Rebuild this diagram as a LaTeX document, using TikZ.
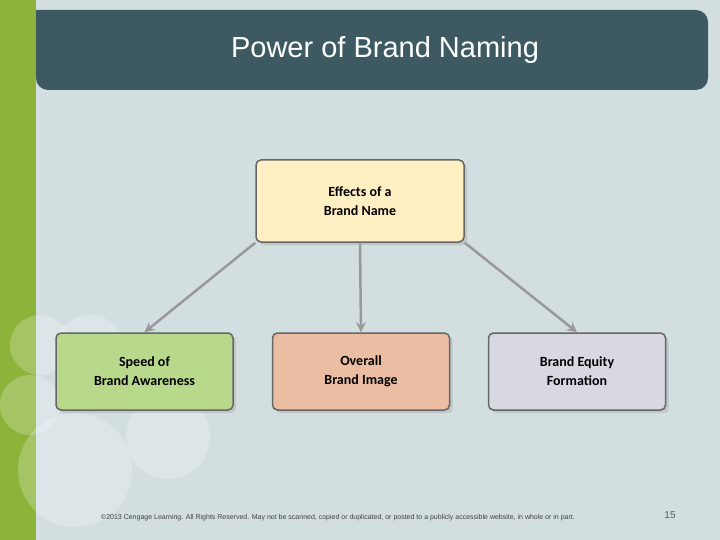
\documentclass[tikz,border=0pt]{standalone}
\usepackage{fontspec}
\setmainfont{Carlito}
\newfontfamily\arialf{Liberation Sans}
\usetikzlibrary{arrows.meta,shadows}
\definecolor{bg}{HTML}{D3DEE1}
\definecolor{gstrip}{HTML}{8DB33A}
\definecolor{tbar}{HTML}{3D5A63}
\definecolor{ylw}{HTML}{FFEFC2}
\definecolor{grn}{HTML}{B8D98C}
\definecolor{pch}{HTML}{EBBEA3}
\definecolor{lav}{HTML}{D8D8E3}
\definecolor{arr}{HTML}{999999}
\tikzset{
 box/.style={draw=gray!80!black, line width=1.5pt, rounded corners=5pt, minimum width=177pt, minimum height=77pt, align=center, font=\fontsize{14}{19}\selectfont\bfseries, drop shadow={shadow xshift=3pt,shadow yshift=-3pt,opacity=0.25}},
 conn/.style={draw=arr, line width=2.5pt, -{Stealth[length=10pt,width=10pt]}},
 bub/.style={fill=white, fill opacity=0.22}
}
\begin{document}
\begin{tikzpicture}[x=1pt,y=-1pt]
\useasboundingbox (0,0) rectangle (720,540);
\fill[bg] (0,0) rectangle (720,540);
\fill[gstrip] (0,0) rectangle (36,540);
\fill[bub] (40,345) circle (30);
\fill[bub] (30,405) circle (30);
\fill[bub] (90,350) circle (35);
\fill[bub] (75,470) circle (57);
\fill[bub] (168,437) circle (42);
\fill[tbar, rounded corners=12pt] (36,10) -- (708,10) -- (708,90) -- (36,90) [sharp corners] -- cycle;
\node[text=white, font=\arialf\fontsize{29}{34}\selectfont] (title) at (385,50) {Power of Brand Naming};
\node[box, fill=ylw, minimum width=208pt, minimum height=82pt] (top) at (360,201) {Effects of a\\ Brand Name};
\node[box, fill=grn] (b1) at (144.5,371.5) {Speed of\\ Brand Awareness};
\node[box, fill=pch] (b2) at (361,371.5) {Overall\\ Brand Image};
\node[box, fill=lav] (b3) at (577,371.5) {Brand Equity\\ Formation};
\draw[conn] (top.south west) -- (b1.north);
\draw[conn] (top.south) -- (b2.north);
\draw[conn] (top.south east) -- (b3.north);
\node[font=\arialf\fontsize{7}{8}\selectfont, text=black!75] (copy) at (338,518) {\textcopyright 2013 Cengage Learning. All Rights Reserved. May not be scanned, copied or duplicated, or posted to a publicly accessible website, in whole or in part.};
\node[font=\arialf\fontsize{10}{12}\selectfont, text=black!65] (pg) at (670,515) {15};
\end{tikzpicture}
\end{document}
